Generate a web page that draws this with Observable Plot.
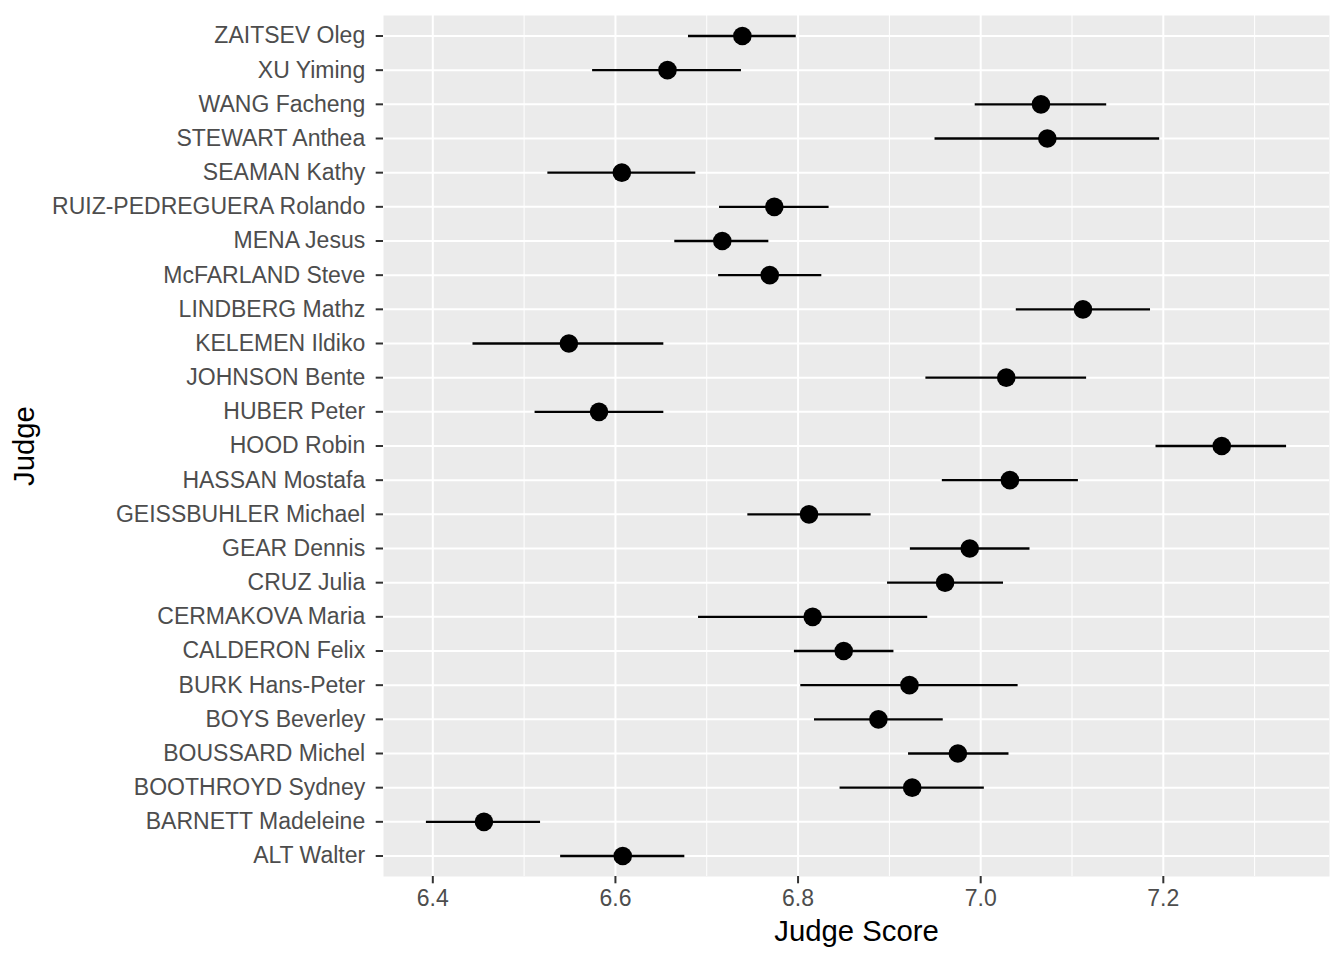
<!DOCTYPE html>
<html>
<head>
<meta charset="utf-8">
<script src="https://cdn.jsdelivr.net/npm/d3@7"></script>
<script src="https://cdn.jsdelivr.net/npm/@observablehq/plot@0.6"></script>
<style>
  html, body { margin: 0; padding: 0; background: #ffffff; }
  #chart svg { display: block; }
  #chart [aria-label="x-axis tick"], #chart [aria-label="y-axis tick"] { stroke: #333333; stroke-width: 2; }
  #chart [aria-label="x-axis tick label"], #chart [aria-label="y-axis tick label"] { fill: #4D4D4D; }
</style>
</head>
<body>
<div id="chart"></div>
<script>
// Judges in display order (top to bottom)
const judges = [
  "ZAITSEV Oleg", "XU Yiming", "WANG Facheng", "STEWART Anthea", "SEAMAN Kathy",
  "RUIZ-PEDREGUERA Rolando", "MENA Jesus", "McFARLAND Steve", "LINDBERG Mathz",
  "KELEMEN Ildiko", "JOHNSON Bente", "HUBER Peter", "HOOD Robin", "HASSAN Mostafa",
  "GEISSBUHLER Michael", "GEAR Dennis", "CRUZ Julia", "CERMAKOVA Maria",
  "CALDERON Felix", "BURK Hans-Peter", "BOYS Beverley", "BOUSSARD Michel",
  "BOOTHROYD Sydney", "BARNETT Madeleine", "ALT Walter"
];
const meanScore = [
  6.739, 6.657, 7.066, 7.073, 6.607,
  6.774, 6.717, 6.769, 7.112,
  6.549, 7.028, 6.582, 7.264, 7.032,
  6.812, 6.988, 6.961, 6.816,
  6.850, 6.922, 6.888, 6.975,
  6.925, 6.456, 6.608
];
const lowerScore = [
  6.680, 6.575, 6.994, 6.950, 6.526,
  6.714, 6.665, 6.713, 7.039,
  6.444, 6.940, 6.512, 7.192, 6.958,
  6.745, 6.923, 6.898, 6.691,
  6.796, 6.803, 6.818, 6.921,
  6.846, 6.393, 6.540
];
const upperScore = [
  6.798, 6.738, 7.138, 7.196, 6.688,
  6.834, 6.768, 6.826, 7.186,
  6.653, 7.116, 6.653, 7.335, 7.107,
  6.880, 7.054, 7.025, 6.942,
  6.905, 7.041, 6.959, 7.031,
  7.004, 6.518, 6.676
];
const xMajorTicks = [6.4, 6.6, 6.8, 7.0, 7.2];
const xMinorTicks = [6.5, 6.7, 6.9, 7.1, 7.3];
const xTitle = "Judge Score";
const yTitle = "Judge";

const data = judges.map((j, i) => ({judge: j, mean: meanScore[i], lo: lowerScore[i], hi: upperScore[i]}));

const chart = Plot.plot({
  width: 1344,
  height: 960,
  marginLeft: 383,
  marginRight: 15,
  marginTop: 15,
  marginBottom: 84,
  style: {fontFamily: "'Liberation Sans', Arial, Helvetica, sans-serif", background: "#ffffff"},
  x: {domain: [6.346, 7.382]},
  y: {type: "point", domain: judges, padding: 0.6, round: false},
  marks: [
    Plot.frame({fill: "#EBEBEB", stroke: null}),
    Plot.ruleX(xMinorTicks, {stroke: "#ffffff", strokeWidth: 1}),
    Plot.ruleX(xMajorTicks, {stroke: "#ffffff", strokeWidth: 2}),
    Plot.ruleY(judges, {stroke: "#ffffff", strokeWidth: 2}),
    Plot.ruleY(data, {y: "judge", x1: "lo", x2: "hi", stroke: "#000000", strokeWidth: 2.3}),
    Plot.dot(data, {x: "mean", y: "judge", r: 9.3, fill: "#000000", stroke: null}),
    Plot.axisX(xMajorTicks, {anchor: "bottom", tickSize: 7.3, tickPadding: 5.5, fontSize: 23, tickFormat: d => d.toFixed(1), label: null}),
    Plot.axisY({anchor: "left", tickSize: 7.3, tickPadding: 11, fontSize: 23, label: null}),
    Plot.text([xTitle], {frameAnchor: "bottom", dy: 55, fontSize: 29.3, fill: "#000000", lineAnchor: "middle", textAnchor: "middle"}),
    Plot.text([yTitle], {frameAnchor: "left", dx: -359, rotate: -90, fontSize: 29.3, fill: "#000000", lineAnchor: "middle", textAnchor: "middle"})
  ]
});
document.getElementById("chart").appendChild(chart);
</script>
</body>
</html>
